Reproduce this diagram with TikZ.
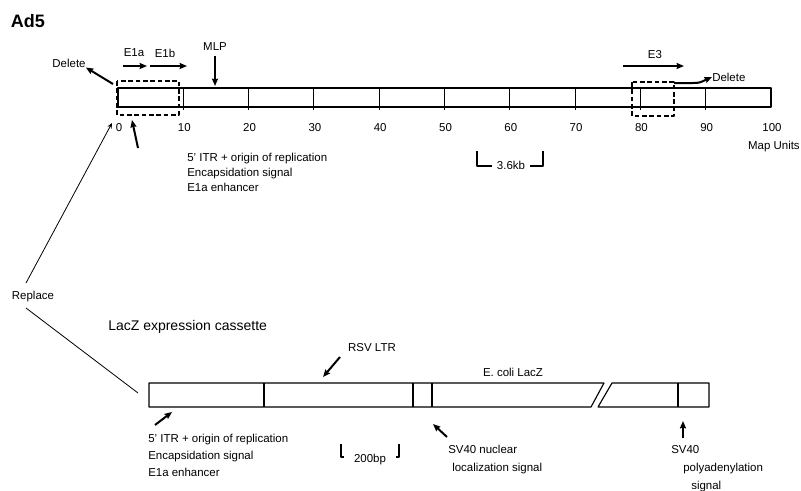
\documentclass[tikz,border=0pt]{standalone}
\usepackage{fontspec}
\setmainfont{Liberation Sans}
\usetikzlibrary{arrows.meta}
\begin{document}
\begin{tikzpicture}[x=.75pt,y=-.75pt,line join=round,>={Stealth[length=5.5pt,width=4.5pt,inset=.6pt]},
  font=\fontsize{8.6}{11}\selectfont,
  bar/.style={line width=.85pt},
  cut/.style={line width=1.1pt,dash pattern=on 3.5pt off 2pt},
  pointer/.style={->,line width=1.5pt},
  lbl/.style={inner sep=0pt},
  txt/.style={inner sep=0pt,anchor=north west,align=left}]
\useasboundingbox (0,0) rectangle (801,490);
\node[lbl,font=\fontsize{13.5}{16}\selectfont\bfseries] (ad5) at (28,21) {Ad5};
% Ad5 genome, 0--100 map units
\draw[bar] (118,88) rectangle (771,107);
\foreach \u in {10,20,...,90} \draw[bar] (118+6.53*\u,88) -- ++(0,22);
\foreach \u in {0,10,...,100} \node[lbl] (mu\u) at (119+6.53*\u,128) {\u};
\node[lbl,anchor=east] (units) at (800,147) {Map Units};
\draw[cut] (117,81) rectangle (179,115);
\draw[cut] (632,82) rectangle (674,116);
% labels above
\node[lbl] (del1) at (69,63) {Delete};
\coordinate (d1) at (113,84);
\draw[pointer] (d1) -- (del1.south east);
\node[lbl] (e1a) at (134,53) {E1a};
\node[lbl] (e1b) at (165,53) {E1b};
\draw[pointer] (123,66) -- (147,66);
\draw[pointer] (150,66) -- (187,66);
\node[lbl] (mlp) at (215,47) {MLP};
\draw[pointer] (mlp.south) ++(0,5) -- (215,86);
\node[lbl] (e3) at (655,55) {E3};
\draw[pointer] (623,66) -- (684,66);
\node[lbl,anchor=west] (del2) at (712,77) {Delete};
\draw[pointer] (674,83) -- (691,83) .. controls (699,83) .. (del2.west);
% labels below
\node[txt,font=\fontsize{8.6}{11.25}\selectfont] (itr1) at (187,153) {5' ITR + origin of replication\\Encapsidation signal\\E1a enhancer};
\coordinate (i1) at (138,148);
\draw[pointer] (i1) -- (132,120);
\draw[bar] (477,151) |- (492,166);
\draw[bar] (543,151) |- (530,166);
\node[lbl] (kb) at (511,165) {3.6kb};
% replacement
\node[lbl] (rep) at (33,297) {Replace};
\coordinate (r1) at (26,283);
\coordinate (r2) at (26,308);
\coordinate (r0) at (112,123);
\coordinate (r3) at (138,393);
\draw[-{Stealth[length=4pt,width=3.5pt]},line width=.6pt] (r1) -- (r0);
\draw[line width=.6pt] (r2) -- (r3);
\node[lbl,anchor=west,font=\fontsize{10.5}{13}\selectfont] (cas) at (108,327) {LacZ expression cassette};
% LacZ cassette
\draw[bar] (149,383) -- (604,383) -- (591,407) -- (149,407) -- cycle;
\draw[bar] (612,383) -- (709,383) -- (709,407) -- (598,407) -- cycle;
\foreach \x in {264,413,432,678} \draw[bar] (\x,383) -- (\x,407);
\node[lbl] (rsv) at (372,348) {RSV LTR};
\coordinate (v1) at (340,357);
\draw[pointer] (v1) -- (323,377);
\node[lbl] (lacz) at (513,372) {E. coli LacZ};
\node[txt,font=\fontsize{8.6}{12.75}\selectfont] (itr2) at (148,434) {5' ITR + origin of replication\\Encapsidation signal\\E1a enhancer};
\coordinate (i2) at (155,425);
\draw[pointer] (i2) -- (172,412);
\draw[bar] (341,444) |- (344,457);
\draw[bar] (399,444) |- (396,457);
\node[lbl] (bp) at (370,460) {200bp};
\node[txt,font=\fontsize{8.6}{13.5}\selectfont] (nls) at (448,445) {SV40 nuclear\\\hspace*{3pt}localization signal};
\coordinate (n1) at (447,437);
\draw[pointer] (n1) -- (433,424);
\node[txt,font=\fontsize{8.6}{13.5}\selectfont] (pa) at (671,445) {SV40\\\hspace*{9pt}polyadenylation\\\hspace*{15pt}signal};
\coordinate (p1) at (683,438);
\draw[pointer] (p1) -- (683,421);
\end{tikzpicture}
\end{document}
